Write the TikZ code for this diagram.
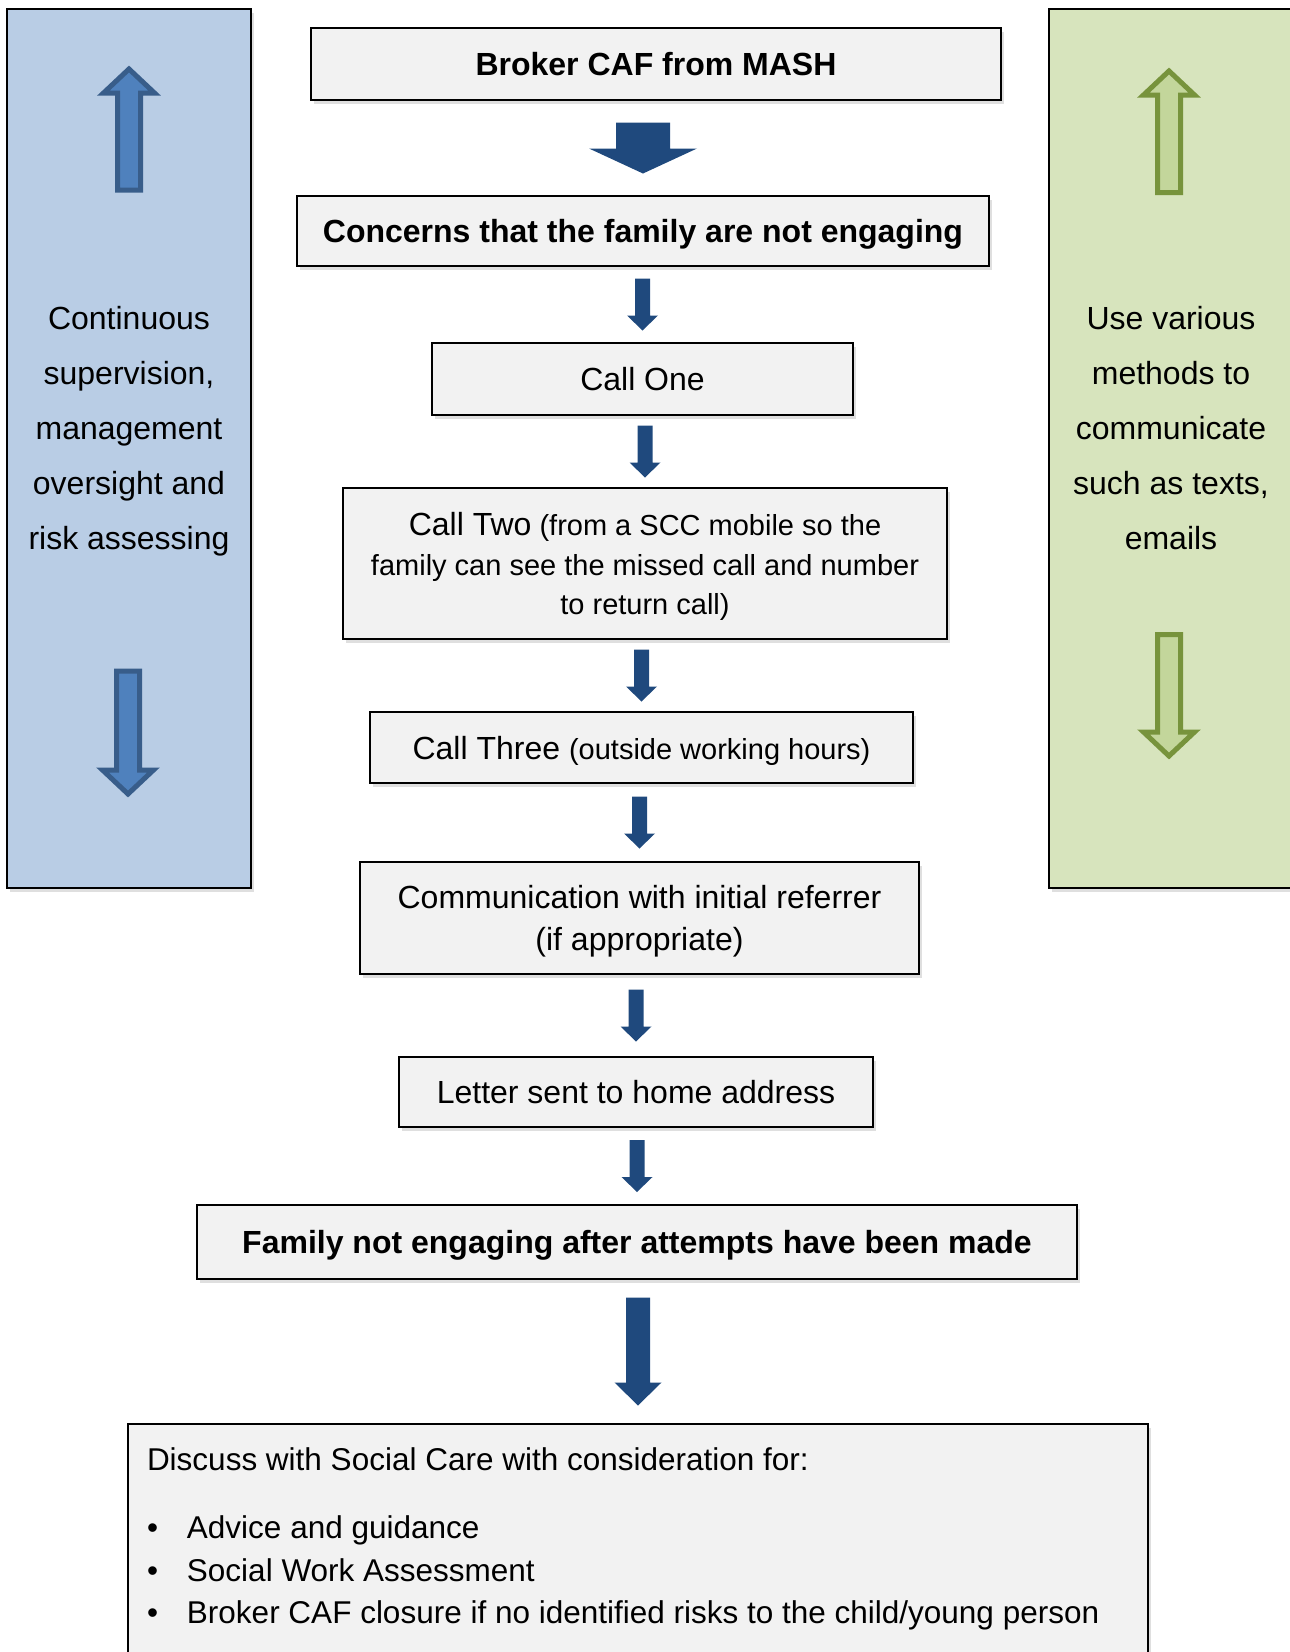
\documentclass[tikz,border=0pt]{standalone}
\usepackage{fontspec}
\setmainfont{Liberation Sans}
\usetikzlibrary{calc,shadows}

\definecolor{boxgray}{HTML}{F2F2F2}
\definecolor{flowblue}{HTML}{1F497D}
\definecolor{panelblue}{HTML}{B9CDE5}
\definecolor{panelgreen}{HTML}{D7E4BD}
\definecolor{blueshaft}{HTML}{4F81BD}
\definecolor{blueedge}{HTML}{385D8A}
\definecolor{greenshaft}{HTML}{C3D69B}
\definecolor{greenedge}{HTML}{77933C}

\newcommand{\flowarrow}[6]{%
  \coordinate (mid) at ($(#1.south)!0.5!(#2.north)$);
  \fill[flowblue] (mid -| #2.north) ++(-#4,#3) -- ++({2*#4},0) -- ++(0,{-2*#3+#6}) -- ++({#5-#4},0) -- ++(-#5,-#6) -- ++(-#5,#6) -- ++({#5-#4},0) -- cycle;
}
\newcommand{\panelarrow}[4]{%
  \filldraw[#1] (#2) -- ++(25.5,{-24*(#3)}) -- ++(-14,0) -- ++(0,{-(#4-24)*(#3)}) -- ++(-23,0) -- ++(0,{(#4-24)*(#3)}) -- ++(-14,0) -- cycle;
}

\begin{document}
\begin{tikzpicture}[x=1pt,y=1pt,
    box/.style={draw, line width=2pt, fill=boxgray, inner sep=0pt, align=center,
      font=\fontsize{32}{40}\selectfont,
      drop shadow={shadow xshift=3pt, shadow yshift=-4pt, opacity=0.25}},
    oneline/.style={text height=23pt, text depth=0pt},
    panel/.style={line width=2pt, drop shadow={shadow xshift=3pt, shadow yshift=-4pt, opacity=0.25}},
    paneltext/.style={align=center, font=\fontsize{32}{55}\selectfont},
    bluearrow/.style={fill=blueshaft, draw=blueedge, line width=5pt},
    greenarrow/.style={fill=greenshaft, draw=greenedge, line width=5pt}]
    \useasboundingbox (0,0) rectangle (1290,-1652);

    \filldraw[panel, fill=panelblue] (7,-9) rectangle (251,-888);
    \filldraw[panel, fill=panelgreen] (1049,-9) rectangle (1320,-888);
    \panelarrow{bluearrow}{129,-69}{1}{121}
    \panelarrow{bluearrow}{128,-794}{-1}{123}
    \panelarrow{greenarrow}{1169,-71}{1}{121.5}
    \panelarrow{greenarrow}{1169,-756}{-1}{121.5}
    \node[paneltext] (oversight) at (129,-431) {Continuous\\supervision,\\management\\oversight and\\risk assessing};
    \node[paneltext] (methods) at (1171,-428) {Use various\\methods to\\communicate\\such as texts,\\emails};

    \node[box, oneline, minimum width=690pt, minimum height=72pt] (broker) at (656,-64) {\bfseries Broker CAF from MASH};
    \node[box, oneline, minimum width=692pt, minimum height=70pt] (concern) at (643,-231) {\bfseries Concerns that the family are not engaging};
    \node[box, oneline, minimum width=421pt, minimum height=72pt] (callone) at (642.5,-379) {Call One};
    \node[box, minimum width=604pt, minimum height=151pt, text height=102pt, text depth=0pt,
        font=\fontsize{29}{39.5}\selectfont] (calltwo) at (645,-563.5)
        {{\fontsize{32}{39.5}\selectfont Call Two} (from a SCC mobile so the\\family can see the missed call and number\\to return call)};
    \node[box, oneline, minimum width=543pt, minimum height=71pt] (callthree) at (641.5,-747.5)
        {Call Three {\fontsize{29}{40}\selectfont(outside working hours)}};
    \node[box, minimum width=559pt, minimum height=112pt, text height=65pt, text depth=0pt,
        font=\fontsize{32}{42}\selectfont] (referrer) at (639.5,-918)
        {Communication with initial referrer\\(if appropriate)};
    \node[box, oneline, minimum width=474pt, minimum height=70pt] (letter) at (636,-1092) {Letter sent to home address};
    \node[box, oneline, minimum width=880pt, minimum height=74pt] (notengaging) at (637,-1242) {\bfseries Family not engaging after attempts have been made};
    \node[box, anchor=north west, align=left, inner xsep=19pt, inner ysep=24pt,
        font=\fontsize{31.5}{42.5}\selectfont] (socialcare) at (127,-1423)
        {\begin{minipage}[t][240pt][t]{982pt}\raggedright
        \mbox{Discuss with Social Care with consideration for:}\\[25.5pt]
        \mbox{\makebox[40pt][l]{\textbullet}Advice and guidance}\\
        \mbox{\makebox[40pt][l]{\textbullet}Social Work Assessment}\\
        \mbox{\makebox[40pt][l]{\textbullet}Broker CAF closure if no identified risks to the child/young person}
        \end{minipage}};

    \flowarrow{broker}{concern}{25.5}{27}{54}{25}
    \flowarrow{concern}{callone}{26}{7.5}{15.5}{15}
    \flowarrow{callone}{calltwo}{26}{7.5}{15.5}{15}
    \flowarrow{calltwo}{callthree}{26}{7.5}{15.5}{15}
    \flowarrow{callthree}{referrer}{26}{7.5}{15.5}{15}
    \flowarrow{referrer}{letter}{26}{7.5}{15.5}{15}
    \flowarrow{letter}{notengaging}{26}{7.5}{15.5}{15}
    \flowarrow{notengaging}{socialcare}{54}{12}{23.5}{23}
\end{tikzpicture}
\end{document}
